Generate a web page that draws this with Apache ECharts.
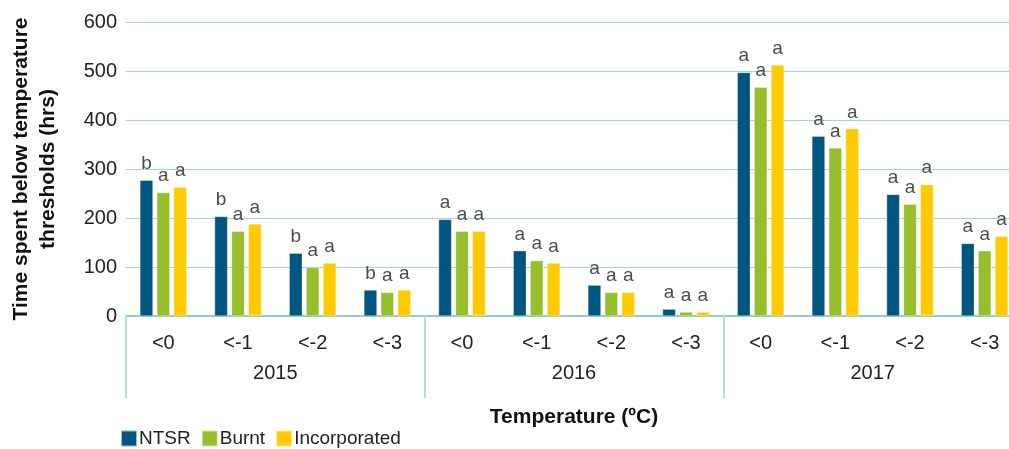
<!DOCTYPE html>
<html>
<head>
<meta charset="utf-8">
<script src="https://cdn.jsdelivr.net/npm/echarts@6/dist/echarts.min.js"></script>
<style>
  html, body { margin: 0; padding: 0; background: #fff; overflow: hidden; }
  /* the original plot runs a little past the right edge of the picture */
  #chart { width: 1022px; height: 449px; }
</style>
</head>
<body>
<div id="chart"></div>
<script>
// categories (temperature thresholds within each year)
var categories = ["<0", "<-1", "<-2", "<-3", "<0", "<-1", "<-2", "<-3", "<0", "<-1", "<-2", "<-3"];
var years = ["2015", "2016", "2017"];
var yTicks = [0, 100, 200, 300, 400, 500, 600];

// hours below threshold
var ntsr = [277, 203, 128, 53, 197, 133, 63, 14, 497, 367, 248, 148];
var burnt = [252, 173, 99, 48, 173, 113, 48, 8, 467, 343, 228, 133];
var incorporated = [263, 188, 108, 53, 173, 108, 48, 8, 512, 382, 268, 163];

// significance letters
var ntsrSig = ["b", "b", "b", "b", "a", "a", "a", "a", "a", "a", "a", "a"];
var burntSig = ["a", "a", "a", "a", "a", "a", "a", "a", "a", "a", "a", "a"];
var incorporatedSig = ["a", "a", "a", "a", "a", "a", "a", "a", "a", "a", "a", "a"];

var FONT = "Liberation Sans";
var colors = ["#01567f", "#97bf2b", "#fecb00"];

function makeSeries(name, data, sig) {
    return {
        name: name,
        type: "bar",
        data: data,
        barWidth: 13,
        barGap: "30%",
        itemStyle: { borderColor: "rgba(255,255,255,0.6)", borderWidth: 0.5 },
        label: {
            show: true,
            position: "top",
            distance: 7,
            color: "#4d4d4d",
            fontFamily: FONT,
            fontSize: 19,
            formatter: function (p) {
                return sig[p.dataIndex];
            },
        },
    };
}

var myChart = echarts.init(document.getElementById("chart"));
var option = {
    color: colors,
    animation: false,
    textStyle: { fontFamily: FONT },
    grid: { left: 125, right: 0, top: 22, bottom: 133, containLabel: false },
    legend: {
        left: 120,
        top: 429,
        padding: 0,
        icon: "rect",
        itemWidth: 16,
        itemHeight: 16,
        itemGap: 10,
        textStyle: { fontFamily: FONT, fontSize: 19, color: "#222", padding: [0, 0, 0, -3] },
        data: ["NTSR", "Burnt", "Incorporated"],
    },
    xAxis: [
        {
            type: "category",
            data: categories,
            axisLine: { lineStyle: { color: "#8dcfcf", width: 2 } },
            axisTick: {
                show: true,
                // separators only between years
                interval: function (i) {
                    return i % 4 === 0;
                },
                length: 82,
                lineStyle: { color: "#b3dfdf", width: 2 },
            },
            axisLabel: { color: "#222", fontFamily: FONT, fontSize: 20, margin: 17, interval: 0 },
        },
        {
            type: "category",
            data: years,
            position: "bottom",
            axisLine: { show: false },
            axisTick: { show: false },
            axisLabel: { color: "#222", fontFamily: FONT, fontSize: 20, margin: 47 },
            name: "Temperature (ºC)",
            nameLocation: "middle",
            nameGap: 91,
            nameTextStyle: { color: "#111", fontFamily: FONT, fontSize: 21, fontWeight: "bold" },
        },
    ],
    yAxis: {
        type: "value",
        min: yTicks[0],
        max: yTicks[yTicks.length - 1],
        interval: 100,
        axisLine: { show: false },
        axisTick: { show: false },
        axisLabel: { color: "#222", fontFamily: FONT, fontSize: 20, margin: 9 },
        splitLine: { lineStyle: { color: "#9fd6d6", width: 1 } },
        name: "Time spent below temperature\nthresholds (hrs)",
        nameLocation: "middle",
        nameRotate: 90,
        nameGap: 64,
        nameTextStyle: { color: "#111", fontFamily: FONT, fontSize: 21, fontWeight: "bold", lineHeight: 27 },
    },
    series: [
        makeSeries("NTSR", ntsr, ntsrSig),
        makeSeries("Burnt", burnt, burntSig),
        makeSeries("Incorporated", incorporated, incorporatedSig),
    ],
};
myChart.setOption(option);
</script>
</body>
</html>
